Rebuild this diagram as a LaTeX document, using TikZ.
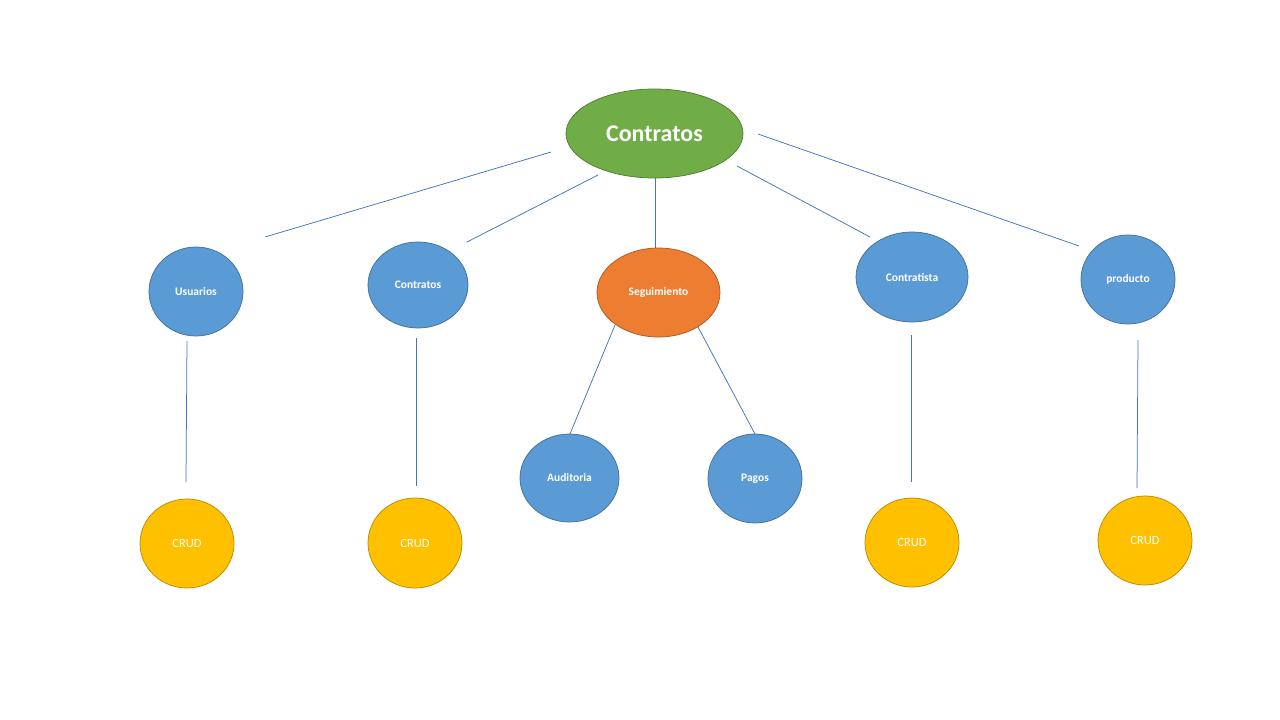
\documentclass[tikz,border=0pt]{standalone}
\usepackage{fontspec}
\setmainfont{Carlito}
\usetikzlibrary{shapes.geometric}
\definecolor{greenF}{HTML}{70AD47}
\definecolor{greenD}{HTML}{507E32}
\definecolor{blueF}{HTML}{5B9BD5}
\definecolor{blueD}{HTML}{41719C}
\definecolor{orangeF}{HTML}{ED7D31}
\definecolor{orangeD}{HTML}{AE5A21}
\definecolor{yellowF}{HTML}{FFC000}
\definecolor{yellowD}{HTML}{BC8C00}
\definecolor{lineC}{HTML}{4472C4}
\tikzset{
  bubble/.style={ellipse, inner sep=0pt, text=white, font=\bfseries\fontsize{11.5}{13}\selectfont, line width=0.75pt},
  rootbox/.style={bubble, fill=greenF, draw=greenD, font=\bfseries\fontsize{24}{28}\selectfont},
  bluebox/.style={bubble, fill=blueF, draw=blueD},
  orangebox/.style={bubble, fill=orangeF, draw=orangeD},
  crudbox/.style={bubble, fill=yellowF, draw=yellowD, font=\fontsize{12.5}{14}\selectfont},
  link/.style={draw=lineC, line width=0.75pt}
}
\begin{document}
\begin{tikzpicture}[x=1pt,y=-1pt]
\useasboundingbox (0,0) rectangle (1280,720);
\node[rootbox, minimum width=177pt, minimum height=89pt] (root) at (654.5,133.5) {Contratos};
\node[bluebox, minimum width=94pt, minimum height=89pt] (usu) at (196,291.5) {Usuarios};
\node[bluebox, minimum width=100pt, minimum height=86pt] (con) at (418,285) {Contratos};
\node[orangebox, minimum width=123pt, minimum height=89pt] (seg) at (658.5,292.5) {Seguimiento};
\node[bluebox, minimum width=112pt, minimum height=90pt] (cta) at (912,277) {Contratista};
\node[bluebox, minimum width=94pt, minimum height=89pt] (pro) at (1128,279.5) {producto};
\node[bluebox, minimum width=99pt, minimum height=88pt] (aud) at (569.5,478) {Auditoria};
\node[bluebox, minimum width=94pt, minimum height=89pt] (pag) at (755,478.5) {Pagos};
\node[crudbox, minimum width=94pt, minimum height=89pt] (c1) at (187,543.5) {CRUD};
\node[crudbox, minimum width=94pt, minimum height=90pt] (c2) at (415,543) {CRUD};
\node[crudbox, minimum width=94pt, minimum height=89pt] (c3) at (912,542.5) {CRUD};
\node[crudbox, minimum width=94pt, minimum height=89pt] (c4) at (1145,540.5) {CRUD};
% connector end points
\coordinate (a1) at (551,152); \coordinate (b1) at (265,237);
\coordinate (a2) at (598,175); \coordinate (b2) at (467,242);
\coordinate (a3) at (655,178); \coordinate (b3) at (655,248);
\coordinate (a4) at (737,166); \coordinate (b4) at (870,237);
\coordinate (a5) at (758,134); \coordinate (b5) at (1079,246);
\coordinate (a6) at (187,341); \coordinate (b6) at (186,482);
\coordinate (a7) at (416,338); \coordinate (b7) at (416,486);
\coordinate (a8) at (615,325); \coordinate (b8) at (570,434);
\coordinate (a9) at (698,327); \coordinate (b9) at (755,434);
\coordinate (a10) at (911,335); \coordinate (b10) at (911,482);
\coordinate (a11) at (1138,340); \coordinate (b11) at (1137,488);
\foreach \i in {1,...,11} { \draw[link] (a\i) -- (b\i); }
\end{tikzpicture}
\end{document}
